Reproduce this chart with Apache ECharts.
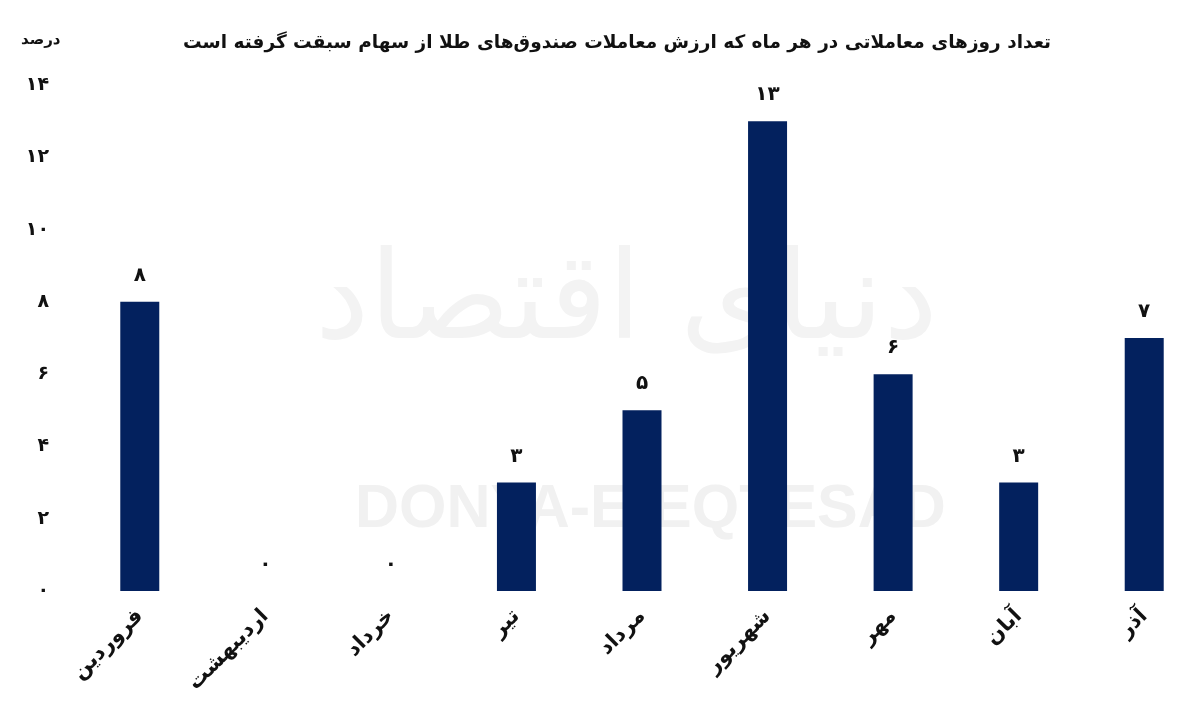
<!DOCTYPE html>
<html>
<head>
<meta charset="utf-8">
<script src="https://cdn.jsdelivr.net/npm/echarts@6/dist/echarts.min.js"></script>
<style>
html,body{margin:0;padding:0;background:#fff;}
#chart{width:1200px;height:724px;}
</style>
</head>
<body>
<div id="chart"></div>
<script>
const title = 'تعداد روزهای معاملاتی در هر ماه که ارزش معاملات صندوق‌های طلا از سهام سبقت گرفته است';
const unitLabel = 'درصد';
const categories = ['فروردین','اردیبهشت','خرداد','تیر','مرداد','شهریور','مهر','آبان','آذر'];
const values = [8, 0, 0, 3, 5, 13, 6, 3, 7];
const yTicks = [0, 2, 4, 6, 8, 10, 12, 14];
const yTickLabels = ['۰','۲','۴','۶','۸','۱۰','۱۲','۱۴'];
const persianDigits = ['۰','۱','۲','۳','۴','۵','۶','۷','۸','۹'];

function toFa(n){ return String(n).replace(/[0-9]/g, d => persianDigits[+d]); }

const FONT = '"DejaVu Sans", "Noto Sans", sans-serif';
const chart = echarts.init(document.getElementById('chart'), null, {renderer:'canvas'});
chart.setOption({
  backgroundColor:'#ffffff',
  animation:false,
  graphic:[
    {type:'text', left:315, top:245, z:-10, silent:true,
     style:{text:'دنیای اقتصاد', font:'122px "DejaVu Sans", sans-serif', fill:'#f3f3f3'}},
    {type:'text', left:355, top:480, z:-10, silent:true,
     style:{text:'DONYA-E-EQTESAD', font:'bold 61px "Liberation Sans", Arial, sans-serif', fill:'#f1f1f1'}},
    {type:'text', left:21, top:33, style:{text:unitLabel, font:'bold 15px '+FONT, fill:'#111'}}
  ],
  title:{
    text:title, left:612, textAlign:'center', top:29,
    textStyle:{fontFamily:FONT, fontWeight:'bold', fontSize:18.5, color:'#111'}
  },
  grid:{left:77, right:-7, top:85, bottom:133, containLabel:false, outerBoundsMode:'none'},
  xAxis:{
    type:'category', data:categories,
    axisLine:{show:false}, axisTick:{show:false},
    axisLabel:{rotate:45, interval:0, margin:22, color:'#111',
      fontFamily:FONT, fontWeight:'bold', fontSize:21}
  },
  yAxis:{
    type:'value', min:0, max:14, interval:2,
    splitLine:{show:false}, axisLine:{show:false}, axisTick:{show:false},
    axisLabel:{margin:28, color:'#111', fontFamily:FONT, fontWeight:'bold', fontSize:19,
      formatter: v => yTickLabels[yTicks.indexOf(v)]}
  },
  series:[{
    type:'bar', data:values, barWidth:39,
    itemStyle:{color:'#03215e'},
    label:{show:true, position:'top', distance:16, color:'#111',
      fontFamily:FONT, fontWeight:'bold', fontSize:20,
      formatter: p => toFa(p.value)}
  }]
});
</script>
</body>
</html>
